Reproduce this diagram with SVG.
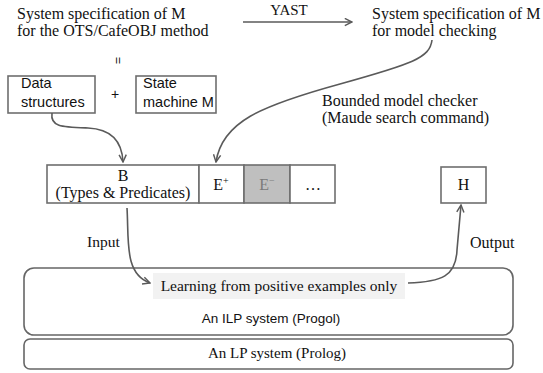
<svg xmlns="http://www.w3.org/2000/svg" width="543" height="373" viewBox="0 0 543 373">
<style>
.serif{font-family:"Liberation Serif","Times New Roman",serif;fill:#111}
.sans{font-family:"Liberation Sans",Arial,sans-serif;fill:#111}
.box{fill:#fff;stroke:#6e6e6e;stroke-width:1.6}
.conn{fill:none;stroke:#5a5a5a;stroke-width:1.6}
</style>
<defs>
<marker id="arr" viewBox="0 0 10 10" refX="9" refY="5" markerWidth="9" markerHeight="9" markerUnits="userSpaceOnUse" orient="auto">
<path d="M1,1 L9,5 L1,9" fill="none" stroke="#5a5a5a" stroke-width="1.6"/>
</marker>
</defs>
<rect width="543" height="373" fill="#fff"/>

<g id="spec-ots">
<text class="serif" x="17" y="19" font-size="16">System specification of M</text>
<text class="serif" x="17" y="36" font-size="16">for the OTS/CafeOBJ method</text>
</g>
<g id="equals">
<text class="sans" x="0" y="0" font-size="12" text-anchor="middle" transform="translate(118,60.5) rotate(90)" dy="4">=</text>
</g>
<g id="data-structures">
<rect class="box" x="8" y="76" width="87" height="37"/>
<text class="sans" x="21" y="88" font-size="14.5">Data</text>
<text class="sans" x="21" y="107" font-size="14.5">structures</text>
</g>
<g id="plus">
<text class="sans" x="115" y="99" font-size="14" text-anchor="middle">+</text>
</g>
<g id="state-machine">
<rect class="box" x="136" y="76" width="80" height="37"/>
<text class="sans" x="143" y="88" font-size="14.5">State</text>
<text class="sans" x="143" y="107" font-size="14.5">machine M</text>
</g>
<g id="yast-label">
<text class="serif" x="289" y="15" font-size="15" text-anchor="middle">YAST</text>
</g>
<g id="spec-mc">
<text class="serif" x="372" y="19" font-size="16">System specification of M</text>
<text class="serif" x="372" y="36" font-size="16">for model checking</text>
</g>
<g id="bmc-label">
<text class="serif" x="322" y="106" font-size="16">Bounded model checker</text>
<text class="serif" x="322" y="123" font-size="16">(Maude search command)</text>
</g>

<g id="b-box">
<rect class="box" x="47" y="165" width="152" height="38"/>
<text class="serif" x="123" y="181" font-size="16" text-anchor="middle">B</text>
<text class="serif" x="123" y="198" font-size="16" text-anchor="middle">(Types &amp; Predicates)</text>
</g>
<g id="e-plus">
<rect class="box" x="199" y="165" width="45" height="38"/>
<text class="serif" x="221" y="190" font-size="16" text-anchor="middle">E<tspan font-size="10" dy="-6">+</tspan></text>
</g>
<g id="e-minus">
<rect x="244" y="165" width="46" height="38" fill="#bfbfbf" stroke="#6e6e6e" stroke-width="1.6"/>
<text class="serif" x="267" y="190" font-size="16" text-anchor="middle" style="fill:#7a7a7a">E<tspan font-size="10" dy="-6">−</tspan></text>
</g>
<g id="ellipsis">
<rect class="box" x="290" y="165" width="45" height="38"/>
<text class="serif" x="313" y="190" font-size="16" text-anchor="middle">…</text>
</g>
<g id="h-box">
<rect class="box" x="441" y="167" width="45" height="36"/>
<text class="serif" x="463.5" y="190" font-size="16" text-anchor="middle">H</text>
</g>
<g id="input-label">
<text class="serif" x="87" y="247" font-size="15.5">Input</text>
</g>
<g id="output-label">
<text class="serif" x="470" y="248" font-size="16">Output</text>
</g>

<g id="ilp-system">
<rect x="24" y="268" width="489" height="67" rx="10" fill="#fff" stroke="#666" stroke-width="1.6"/>
<rect x="153" y="273" width="252" height="26" fill="#f2f2f2"/>
<text class="serif" x="279" y="291" font-size="15.5" text-anchor="middle">Learning from positive examples only</text>
<text class="sans" x="271" y="323" font-size="13.5" text-anchor="middle">An ILP system (Progol)</text>
</g>
<g id="lp-system">
<rect x="24" y="339" width="489" height="30" rx="6" fill="#fff" stroke="#666" stroke-width="1.6"/>
<text class="serif" x="277" y="358" font-size="15" text-anchor="middle">An LP system (Prolog)</text>
</g>

<g id="connectors">
<path class="conn" d="M243,22 L352,22" marker-end="url(#arr)"/>
<path class="conn" d="M52,113 C50,127 62,127 88,128 C110,129 122,140 123,162" marker-end="url(#arr)"/>
<path class="conn" d="M432,40 C430,58 412,64 340,84 C260,106 222,122 216,162" marker-end="url(#arr)"/>
<path class="conn" d="M127,208 C129,240 124,274 150,283" marker-end="url(#arr)"/>
<path class="conn" d="M408,283 C442,282 456,276 457,250 L461,205" marker-end="url(#arr)"/>
</g>
</svg>
